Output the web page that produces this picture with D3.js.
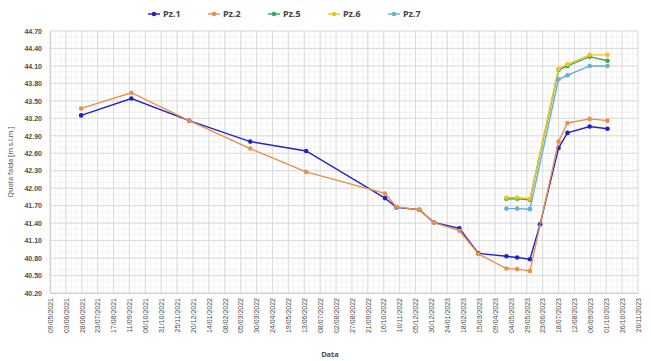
<!DOCTYPE html>
<html>
<head>
<meta charset="utf-8">
<script src="https://cdn.jsdelivr.net/npm/d3@7"></script>
<style>
  body { margin: 0; background: #fff; }
  svg { font-family: "Noto Sans", "DejaVu Sans", sans-serif; }
</style>
</head>
<body>
<div id="chart"></div>
<script>
// date per le misure
const dates1 = ["27/06/2021", "14/09/2021", "14/12/2021", "20/03/2022", "16/06/2022", "18/10/2022", "05/11/2022",
  "11/12/2022", "03/01/2023", "12/02/2023", "14/03/2023", "27/04/2023", "14/05/2023", "03/06/2023", "19/06/2023",
  "18/07/2023", "01/08/2023", "05/09/2023", "03/10/2023"];
const pz1 = [43.25, 43.54, 43.16, 42.80, 42.64, 41.83, 41.67, 41.63, 41.41, 41.31, 40.88, 40.83, 40.81, 40.78, 41.38,
  42.69, 42.95, 43.06, 43.02];

const dates2 = ["27/06/2021", "14/09/2021", "14/12/2021", "20/03/2022", "16/06/2022", "18/10/2022", "05/11/2022",
  "11/12/2022", "03/01/2023", "12/02/2023", "14/03/2023", "27/04/2023", "14/05/2023", "03/06/2023",
  "18/07/2023", "01/08/2023", "05/09/2023", "03/10/2023"];
const pz2 = [43.37, 43.64, 43.16, 42.68, 42.28, 41.91, 41.68, 41.63, 41.41, 41.27, 40.87, 40.62, 40.61, 40.58,
  42.80, 43.12, 43.19, 43.16];

const dates567 = ["27/04/2023", "14/05/2023", "03/06/2023", "18/07/2023", "01/08/2023", "05/09/2023", "03/10/2023"];
const pz5 = [41.82, 41.82, 41.80, 44.03, 44.10, 44.26, 44.19];
const pz6 = [41.84, 41.84, 41.82, 44.05, 44.13, 44.29, 44.29];
const pz7 = [41.65, 41.65, 41.64, 43.87, 43.94, 44.10, 44.10];

const seriesNames = ["Pz.1", "Pz.2", "Pz.5", "Pz.6", "Pz.7"];
const colors = ["#2222cc", "#e8914a", "#2eab5c", "#f5c31c", "#6aaed0"];
const yTicks = [40.20, 40.50, 40.80, 41.10, 41.40, 41.70, 42.00, 42.30, 42.60, 42.90, 43.20, 43.50, 43.80, 44.10, 44.40, 44.70];
const xStartLabel = "09/05/2021", xEndLabel = "20/11/2023";

const parse = d3.utcParse("%d/%m/%Y");
const fmt = d3.utcFormat("%d/%m/%Y");

const series = [
  { name: seriesNames[0], dates: dates1, values: pz1 },
  { name: seriesNames[1], dates: dates2, values: pz2 },
  { name: seriesNames[2], dates: dates567, values: pz5 },
  { name: seriesNames[3], dates: dates567, values: pz6 },
  { name: seriesNames[4], dates: dates567, values: pz7 }
].map((s, i) => ({
  name: s.name,
  color: colors[i],
  points: s.dates.map((d, j) => ({ date: parse(d), value: s.values[j] }))
}));

const width = 651, height = 361;
const mLeft = 50, mRight = 638, mTop = 31, mBottom = 293;

const svg = d3.select("#chart").append("svg")
  .attr("width", width)
  .attr("height", height);

const xStart = parse(xStartLabel), xEnd = parse(xEndLabel);
const x = d3.scaleUtc().domain([xStart, xEnd]).range([mLeft, mRight]);
const y = d3.scaleLinear().domain([40.2, 44.7]).range([mBottom, mTop]);

const xTicks = d3.utcDay.range(xStart, d3.utcDay.offset(xEnd, 1), 25);

// griglia secondaria
const minorX = [];
for (let t = +xStart; t <= +xEnd; t += 25 * 864e5 / 3) minorX.push(new Date(t));
const minorY = d3.range(40.2, 44.71, 0.1);

const grid = svg.append("g");
grid.selectAll(".mx").data(minorX).enter().append("line")
  .attr("x1", d => x(d)).attr("x2", d => x(d))
  .attr("y1", mTop).attr("y2", mBottom)
  .attr("stroke", "#ececec").attr("stroke-width", 0.6);
grid.selectAll(".my").data(minorY).enter().append("line")
  .attr("x1", mLeft).attr("x2", mRight)
  .attr("y1", d => y(d)).attr("y2", d => y(d))
  .attr("stroke", "#ececec").attr("stroke-width", 0.6);
grid.selectAll(".gx").data(xTicks).enter().append("line")
  .attr("x1", d => x(d)).attr("x2", d => x(d))
  .attr("y1", mTop).attr("y2", mBottom)
  .attr("stroke", "#d4d4d4").attr("stroke-width", 0.8);
grid.selectAll(".gy").data(yTicks).enter().append("line")
  .attr("x1", mLeft).attr("x2", mRight)
  .attr("y1", d => y(d)).attr("y2", d => y(d))
  .attr("stroke", "#d4d4d4").attr("stroke-width", 0.8);

// assi
const yAxis = svg.append("g")
  .attr("transform", `translate(${mLeft},0)`)
  .call(d3.axisLeft(y).tickValues(yTicks).tickFormat(d3.format(".2f")).tickSize(0).tickPadding(8));
yAxis.select(".domain").attr("stroke", "#d0d0d0");
yAxis.selectAll("text").attr("fill", "#4d4d4d").attr("font-size", 7).attr("font-weight", "bold");

const xAxis = svg.append("g")
  .attr("transform", `translate(0,${mBottom})`)
  .call(d3.axisBottom(x).tickValues(xTicks).tickFormat(fmt).tickSize(0));
xAxis.select(".domain").attr("stroke", "#d0d0d0");
xAxis.selectAll("text")
  .attr("fill", "#4d4d4d").attr("font-size", 7)
  .attr("transform", "rotate(-90)")
  .attr("text-anchor", "end")
  .attr("x", -5).attr("y", 0).attr("dy", "0.32em");

// titoli assi
svg.append("text")
  .attr("transform", `translate(13,${(mTop + mBottom) / 2}) rotate(-90)`)
  .attr("text-anchor", "middle")
  .attr("font-size", 7).attr("fill", "#4d4d4d")
  .text("Quota falda [m s.l.m.]");
svg.append("text")
  .attr("x", 330).attr("y", 357)
  .attr("text-anchor", "middle")
  .attr("font-size", 7.5).attr("font-weight", "bold").attr("fill", "#4d4d4d")
  .text("Data");

// serie
const line = d3.line().x(d => x(d.date)).y(d => y(d.value));
const sg = svg.selectAll(".serie").data(series).enter().append("g");
sg.append("path")
  .attr("d", d => line(d.points))
  .attr("fill", "none")
  .attr("stroke", d => d.color)
  .attr("stroke-width", 1.4);
sg.each(function (s) {
  d3.select(this).selectAll("circle").data(s.points).enter().append("circle")
    .attr("cx", d => x(d.date)).attr("cy", d => y(d.value))
    .attr("r", 2.3).attr("fill", s.color);
});

// legenda
const legend = svg.append("g").attr("transform", "translate(148,14)");
const li = legend.selectAll("g").data(series).enter().append("g")
  .attr("transform", (d, i) => `translate(${i * 60},0)`);
li.append("line").attr("x1", 0).attr("x2", 12).attr("y1", 0).attr("y2", 0)
  .attr("stroke", d => d.color).attr("stroke-width", 1.4);
li.append("circle").attr("cx", 6).attr("cy", 0).attr("r", 2.3).attr("fill", d => d.color);
li.append("text").attr("x", 15).attr("y", 0).attr("dy", "0.35em")
  .attr("font-size", 9).attr("font-weight", "bold").attr("fill", "#444")
  .text(d => d.name);
</script>
</body>
</html>
